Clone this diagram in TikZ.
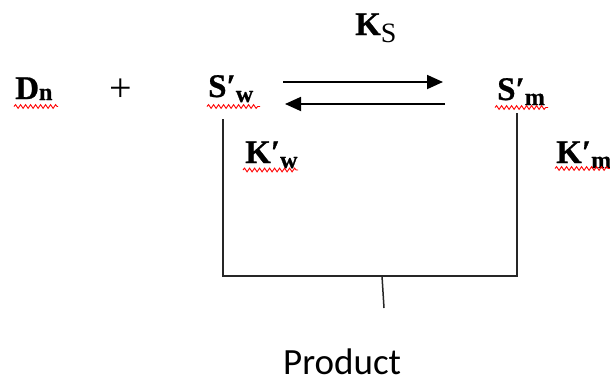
\documentclass[tikz,border=0pt]{standalone}
\usepackage{fontspec}
\setmainfont[BoldFeatures={FakeBold=0.8}]{Liberation Serif}
\newfontfamily\prodfont{Carlito}
\usetikzlibrary{arrows.meta,decorations.pathmorphing}
\newcommand\mysub[2][-5pt]{\raisebox{#1}{\fontsize{24}{24}\selectfont #2}}
\begin{document}
\begin{tikzpicture}[x=1pt,y=-1pt,
  lbl/.style={anchor=base west,inner sep=0pt,font=\fontsize{33}{36}\selectfont\bfseries},
  wave/.style={draw=red,line width=0.9pt,decorate,decoration={snake,segment length=5pt,amplitude=1.9pt}},
  rxn/.style={line width=1.8pt,-{Triangle[length=16pt,width=14pt]}},
  wire/.style={line width=1.5pt,black!85}]
\useasboundingbox[fill=white] (0,0) rectangle (610,381);
% labels
\node[lbl] (ks) at (355,35) {K\mysub[-7pt]{\fontsize{28}{28}\selectfont\mdseries S}};
\node[lbl] (dn) at (15,99) {D\mysub[-1pt]{n}};
\node[inner sep=0pt,font=\fontsize{40}{40}\selectfont] (plus) at (121,90) {+};
\node[lbl] (sw) at (208,97) {S′\mysub{w}};
\node[lbl] (sm) at (497,100) {S′\mysub{m}};
\node[lbl] (kw) at (245,163) {K′\mysub{w}};
\node[lbl] (km) at (556,163) {K′\mysub{m}};
\node[anchor=base west,inner sep=0pt,font=\prodfont\fontsize{37}{40}\selectfont] (prod) at (283,374) {Product};
% spell-check waves
\draw[wave] (14,106.5) -- (58,106.5);
\draw[wave] (207,106.5) -- (260,106.5);
\draw[wave] (495,107.5) -- (548,107.5);
\draw[wave] (243,170) -- (298,170);
\draw[wave] (555,168.5) -- (610,168.5);
% equilibrium arrows
\coordinate (fwA) at (283,82);
\coordinate (fwB) at (443,82);
\coordinate (bwA) at (445,104);
\coordinate (bwB) at (285,104);
\draw[rxn] (fwA) -- (fwB);
\draw[rxn] (bwA) -- (bwB);
% bracket to product
\coordinate (swd) at (223,119);
\coordinate (smd) at (517,113);
\coordinate (bl) at (223,276);
\coordinate (br) at (517,276);
\coordinate (st) at (382,276);
\coordinate (stb) at (384,308);
\draw[wire] (swd) -- (bl) -- (br) -- (smd);
\draw[wire] (st) -- (stb);
\end{tikzpicture}
\end{document}
